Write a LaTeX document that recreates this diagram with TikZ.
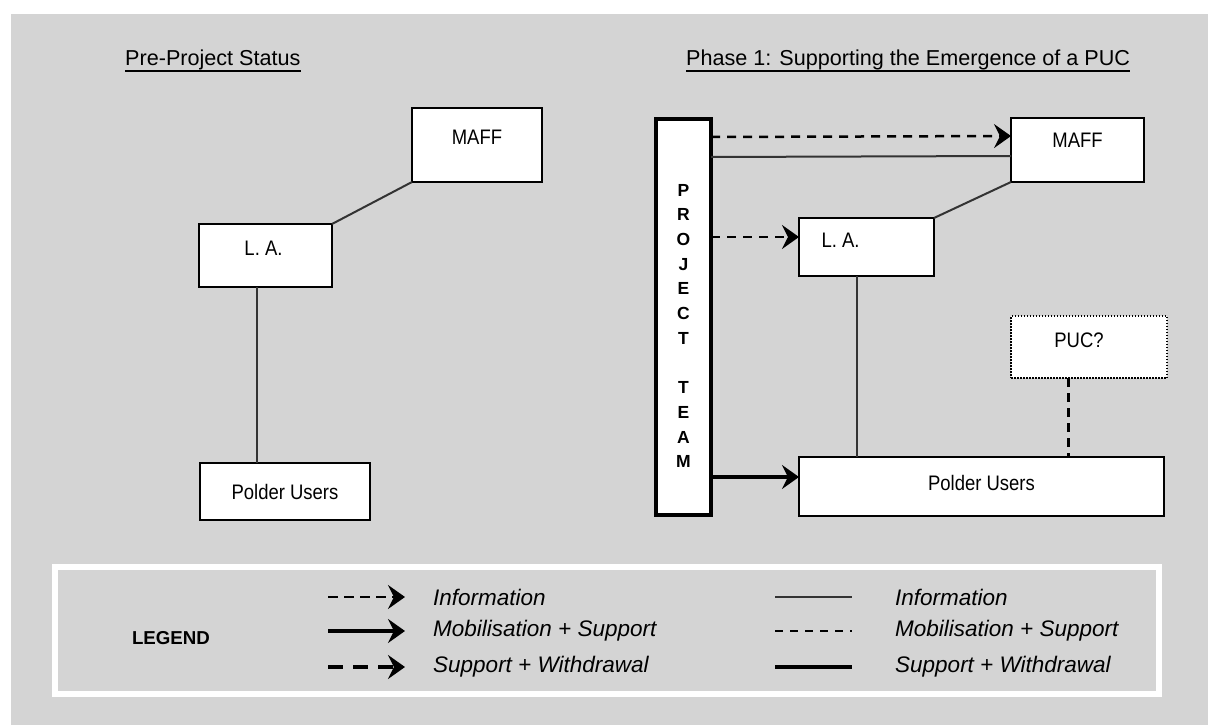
\documentclass[tikz,border=0pt]{standalone}
\usepackage{fontspec}
\setmainfont{Liberation Sans}
\newfontfamily\boxfont[FakeStretch=0.88]{Liberation Sans}
\usetikzlibrary{arrows.meta,calc}
\definecolor{bg}{RGB}{212,212,212}
\definecolor{conn}{RGB}{51,51,51}
\begin{document}
\begin{tikzpicture}[x=1pt,y=-1pt,
  box/.style={draw=black, line width=2.5pt, fill=white, inner sep=0pt, outer sep=0pt},
  dotbox/.style={draw=black, line width=2pt, dash pattern=on 1.5pt off 1.5pt, fill=white, inner sep=0pt, outer sep=0pt},
  teambox/.style={draw=black, line width=4pt, fill=white, inner sep=0pt, outer sep=0pt},
  lbl/.style={font=\boxfont\fontsize{21}{25}\selectfont, inner sep=0pt},
  titletxt/.style={font=\fontsize{21.6}{26}\selectfont, inner sep=0pt},
  legtxt/.style={font=\fontsize{22.5}{27}\selectfont\itshape, inner sep=0pt, anchor=west},
  teamtxt/.style={font=\fontsize{17.5}{24.7}\selectfont\bfseries, align=center, inner sep=0pt},
  conn/.style={draw=conn, line width=2pt},
  tip/.style={-{Stealth[length=17pt,width=24pt,inset=6pt]}},
  darr/.style={tip, draw=black, line width=2.5pt, dash pattern=on 9pt off 7pt},
  sarr/.style={tip, draw=black, line width=3.5pt},
  tdarr/.style={tip, draw=black, line width=4pt, dash pattern=on 15pt off 10pt},
  dline/.style={draw=black, line width=2pt, dash pattern=on 8pt off 7pt},
  thline/.style={draw=black, line width=4.5pt},
  ]
\useasboundingbox (0,0) rectangle (1208,725);
\fill[white] (0,0) rectangle (1208,725);
\fill[bg] (11,14) rectangle (1208,725);

% titles
\node[titletxt, anchor=base west] (t1) at (125,66) {Pre-Project Status};
\node[titletxt, anchor=base west] (t2) at (686,66) {Phase 1: Supporting the Emergence of a PUC};
\draw[line width=2pt] ([yshift=-5pt]t1.base west) -- ([yshift=-5pt]t1.base east);
\draw[line width=2pt] ([yshift=-5pt]t2.base west) -- ([yshift=-5pt]t2.base east);

% left panel
\node[box, minimum width=130pt, minimum height=74pt] (maff1) at (477,145) {};
\node[lbl] (maff1t) at ([yshift=8pt]maff1.center) {MAFF};
\node[box, minimum width=133pt, minimum height=63pt] (la1) at (265.5,255.5) {};
\node[lbl] (la1t) at ([yshift=7pt,xshift=-2pt]la1.center) {L. A.};
\node[box, minimum width=170pt, minimum height=57pt] (pu1) at (285,491.5) {};
\node[lbl] (pu1t) at (pu1.center) {Polder Users};
\draw[conn] (la1.north east) -- (maff1.south west);
\draw[conn] ([xshift=-8.5pt]la1.south) -- ([xshift=-8.5pt]la1.south |- pu1.north);

% right panel
\node[teambox, minimum width=55pt, minimum height=396pt] (team) at (683.5,317) {};
\node[teamtxt] (teamt) at (683.5,326) {P\\R\\O\\J\\E\\C\\T\\[24.7pt]T\\E\\A\\M};
\node[box, minimum width=133pt, minimum height=64pt] (maff2) at (1077.5,150) {};
\node[lbl] (maff2t) at ([yshift=10pt]maff2.center) {MAFF};
\node[box, minimum width=135pt, minimum height=58pt] (la2) at (866.5,247) {};
\node[lbl] (la2t) at ([yshift=7pt,xshift=-26pt]la2.center) {L. A.};
\node[box, minimum width=365pt, minimum height=59pt] (pu2) at (981.5,486.5) {};
\node[lbl] (pu2t) at ([yshift=4pt]pu2.center) {Polder Users};
\node[dotbox, minimum width=156pt, minimum height=62pt] (puc) at (1089,347) {};
\node[lbl] (puct) at ([yshift=7pt,xshift=-10pt]puc.center) {PUC?};

\draw[darr] ([yshift=-18pt]team.north east) -- ([yshift=-18pt]maff2.north west);
\draw[conn] ([yshift=-38pt]team.north east) -- ([yshift=-38pt]maff2.north west);
\coordinate (la2in) at ([yshift=10pt]la2.west);
\draw[darr] (team.east |- la2in) -- (la2in);
\coordinate (pu2in) at ([yshift=9.5pt]pu2.west);
\draw[sarr, line width=4pt] (team.east |- pu2in) -- (pu2in);
\draw[conn] (la2.north east) -- (maff2.south west);
\draw[conn] ([xshift=-9.5pt]la2.south) -- ([xshift=-9.5pt]la2.south |- pu2.north);
\coordinate (pucout) at ([xshift=-21pt]puc.south);
\draw[draw=black, line width=3pt, dash pattern=on 9pt off 6pt] (pucout) -- (pucout |- pu2.north);

% legend
\draw[white, line width=6pt, fill=bg] (54.5,566.5) rectangle (1158.5,693.5);
\node[font=\fontsize{18.7}{22}\selectfont\bfseries, inner sep=0pt] (legend) at (171,638) {LEGEND};
\coordinate (a1s) at (328,597); \coordinate (a1e) at (405,597);
\coordinate (a2s) at (328,631); \coordinate (a2e) at (405,631);
\coordinate (a3s) at (328,667); \coordinate (a3e) at (405,667);
\draw[darr, line width=2pt, dash pattern=on 10pt off 6pt] (a1s) -- (a1e);
\draw[sarr] (a2s) -- (a2e);
\draw[tdarr] (a3s) -- (a3e);
\node[legtxt] (i1) at (433,597) {Information};
\node[legtxt] (i2) at (433,631) {Mobilisation + Support};
\node[legtxt] (i3) at (433,667) {Support + Withdrawal};
\coordinate (b1s) at (775,597); \coordinate (b1e) at (852,597);
\coordinate (b2s) at (775,631); \coordinate (b2e) at (852,631);
\coordinate (b3s) at (775,667); \coordinate (b3e) at (852,667);
\draw[conn] (b1s) -- (b1e);
\draw[dline] (b2s) -- (b2e);
\draw[thline] (b3s) -- (b3e);
\node[legtxt] (j1) at (895,597) {Information};
\node[legtxt] (j2) at (895,631) {Mobilisation + Support};
\node[legtxt] (j3) at (895,667) {Support + Withdrawal};
\end{tikzpicture}
\end{document}
